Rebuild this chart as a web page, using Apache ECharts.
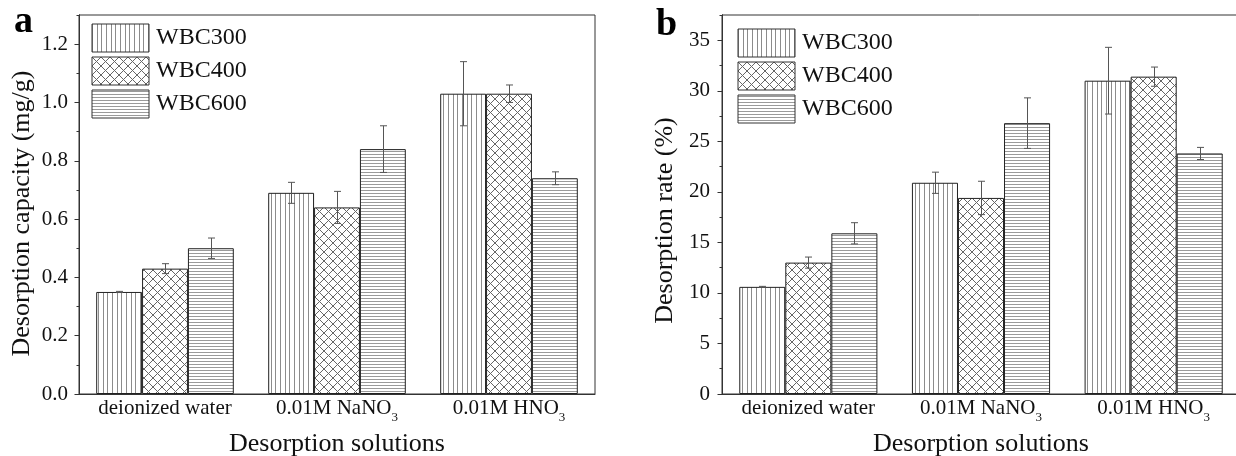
<!DOCTYPE html>
<html>
<head>
<meta charset="utf-8">
<script src="https://cdn.jsdelivr.net/npm/echarts@6/dist/echarts.min.js"></script>
<style>
  html, body { margin: 0; padding: 0; background: #fff; }
  #chart { width: 1236px; height: 456px; }
</style>
</head>
<body>
<div id="chart"></div>
<script>
// Desorption solutions on the x axis
const categories = ['deionized water', '0.01M NaNO3', '0.01M HNO3'];
const sampleNames = ['WBC300', 'WBC400', 'WBC600'];

// (a) Desorption capacity, mg/g, with standard deviations
const capWBC300 = [0.35, 0.69, 1.03];
const capWBC400 = [0.43, 0.64, 1.03];
const capWBC600 = [0.50, 0.84, 0.74];
const capErrWBC300 = [0.002, 0.036, 0.11];
const capErrWBC400 = [0.017, 0.055, 0.03];
const capErrWBC600 = [0.035, 0.08, 0.022];

// (b) Desorption rate, %, with standard deviations
const rateWBC300 = [10.6, 20.9, 31.0];
const rateWBC400 = [13.0, 19.4, 31.4];
const rateWBC600 = [15.9, 26.8, 23.8];
const rateErrWBC300 = [0.05, 1.05, 3.3];
const rateErrWBC400 = [0.55, 1.65, 0.95];
const rateErrWBC600 = [1.05, 2.5, 0.6];

// Axis ranges and tick steps
const capAxis = { max: 1.3, major: 0.2, minor: 0.1 };
const rateAxis = { max: 37.5, major: 5, minor: 2.5 };

const FONT = "'Liberation Serif', 'Times New Roman', serif";
const INK = '#111';
const AXIS = '#333';

// Hatch fills used for the three samples
function hatch(kind) {
  const c = document.createElement('canvas');
  const ctx = c.getContext('2d');
  if (kind === 'vertical') {
    c.width = 14; c.height = 4;
    ctx.fillStyle = '#fff'; ctx.fillRect(0, 0, 14, 4);
    ctx.fillStyle = '#8c8c8c';
    [0, 5, 9].forEach(x => ctx.fillRect(x, 0, 1, 4));
  } else if (kind === 'cross') {
    c.width = 9; c.height = 9;
    ctx.fillStyle = '#fff'; ctx.fillRect(0, 0, 9, 9);
    ctx.strokeStyle = '#666'; ctx.lineWidth = 1;
    for (let o = -9; o <= 9; o += 9) {
      ctx.beginPath();
      ctx.moveTo(o, 0); ctx.lineTo(o + 9, 9);
      ctx.moveTo(o + 9, 0); ctx.lineTo(o, 9);
      ctx.stroke();
    }
  } else {
    c.width = 4; c.height = 3;
    ctx.fillStyle = '#fff'; ctx.fillRect(0, 0, 4, 3);
    ctx.fillStyle = '#9a9a9a'; ctx.fillRect(0, 1, 4, 1);
  }
  return { image: c, repeat: 'repeat' };
}
const fills = [hatch('vertical'), hatch('cross'), hatch('horizontal')];

function barSeries(idx, values, xIdx, yIdx) {
  return {
    type: 'bar', name: sampleNames[idx], data: values,
    xAxisIndex: xIdx, yAxisIndex: yIdx,
    barGap: '0%', barCategoryGap: '20%',
    itemStyle: { color: fills[idx], borderColor: '#222', borderWidth: 1 },
    silent: true
  };
}

function errorSeries(idx, values, errs, xIdx, yIdx) {
  return {
    type: 'custom', name: sampleNames[idx] + ' SD',
    xAxisIndex: xIdx, yAxisIndex: yIdx, z: 10, silent: true,
    data: values.map((v, i) => [i, v - errs[i], v + errs[i], idx]),
    encode: { x: 0, y: [1, 2] },
    renderItem(params, api) {
      const cat = api.value(0);
      const lo = api.coord([cat, api.value(1)]);
      const hi = api.coord([cat, api.value(2)]);
      const barW = api.size([1, 0])[0] * 0.8 / 3;
      const x = Math.round(lo[0] + (api.value(3) - 1) * barW) + 0.5;
      const cap = 3.5;
      const st = { stroke: '#555', lineWidth: 1 };
      return {
        type: 'group', children: [
          { type: 'line', shape: { x1: x, y1: lo[1], x2: x, y2: hi[1] }, style: st },
          { type: 'line', shape: { x1: x - cap, y1: hi[1], x2: x + cap, y2: hi[1] }, style: st },
          { type: 'line', shape: { x1: x - cap, y1: lo[1], x2: x + cap, y2: lo[1] }, style: st }
        ]
      };
    }
  };
}

function catAxis(gridIndex) {
  return {
    type: 'category', gridIndex, data: categories, position: 'bottom',
    axisLine: { lineStyle: { color: AXIS, width: 1 } },
    axisTick: { show: false },
    axisLabel: {
      interval: 0, hideOverlap: false,
      color: INK, fontFamily: FONT, fontSize: 21, lineHeight: 34, margin: -3,
      formatter: v => v.replace(/O3$/, 'O{s|3}'),
      rich: { s: { fontFamily: FONT, fontSize: 13, lineHeight: 13, color: INK, padding: [20, 0, 0, 0] } }
    },
    name: 'Desorption solutions', nameLocation: 'middle', nameGap: 37,
    nameTextStyle: { color: INK, fontFamily: FONT, fontSize: 26 }
  };
}

function minorAxis(gridIndex, ax) {
  return {
    type: 'value', gridIndex, position: 'left', offset: 0, min: 0, max: ax.max, interval: ax.minor,
    axisLine: { show: true, onZero: false, lineStyle: { color: AXIS, width: 1 } },
    axisTick: { show: true, inside: false, length: 2.5, lineStyle: { color: AXIS } },
    axisLabel: { show: false }, splitLine: { show: false }
  };
}

function majorAxis(gridIndex, ax, title, labelMargin, nameGap, namePad, fmt) {
  return {
    type: 'value', gridIndex, position: 'left', offset: 0, min: 0, max: ax.max, interval: ax.major,
    axisLine: { show: true, onZero: false, lineStyle: { color: AXIS, width: 1 } },
    axisTick: { show: true, inside: false, length: 4.5, lineStyle: { color: AXIS } },
    axisLabel: { color: INK, fontFamily: FONT, fontSize: 21, margin: labelMargin, showMaxLabel: false, formatter: fmt },
    splitLine: { show: false },
    name: title, nameLocation: 'middle', nameGap: nameGap,
    nameTextStyle: { color: INK, fontFamily: FONT, fontSize: 26, padding: [0, namePad, 0, 0] }
  };
}

function legendFor(left, top) {
  return {
    data: sampleNames, orient: 'vertical', left, top, padding: 0,
    icon: 'rect', itemWidth: 57, itemHeight: 28, itemGap: 4,
    selectedMode: false,
    itemStyle: { borderColor: '#333', borderWidth: 1 },
    textStyle: { color: INK, fontFamily: FONT, fontSize: 24, padding: [0, 0, 0, 2] }
  };
}

const chart = echarts.init(document.getElementById('chart'), null, { renderer: 'canvas' });
chart.setOption({
  animation: false,
  backgroundColor: '#fff',
  grid: [
    { left: 79, top: 15, width: 516, height: 379, containLabel: false, outerBoundsMode: 'none',
      show: true, borderColor: AXIS, borderWidth: 1, backgroundColor: 'transparent' },
    { left: 722, top: 15, width: 518, height: 379, containLabel: false, outerBoundsMode: 'none',
      show: true, borderColor: AXIS, borderWidth: 1, backgroundColor: 'transparent' }
  ],
  legend: [legendFor(91.5, 23.5), legendFor(737.5, 28.5)],
  xAxis: [catAxis(0), catAxis(1)],
  yAxis: [
    minorAxis(0, capAxis),
    majorAxis(0, capAxis, 'Desorption capacity (mg/g)', 11, 44, 18, v => v.toFixed(1)),
    minorAxis(1, rateAxis),
    majorAxis(1, rateAxis, 'Desorption rate (%)', 12, 44, 32, v => String(v))
  ],
  series: [
    barSeries(0, capWBC300, 0, 1),
    barSeries(1, capWBC400, 0, 1),
    barSeries(2, capWBC600, 0, 1),
    errorSeries(0, capWBC300, capErrWBC300, 0, 1),
    errorSeries(1, capWBC400, capErrWBC400, 0, 1),
    errorSeries(2, capWBC600, capErrWBC600, 0, 1),
    barSeries(0, rateWBC300, 1, 3),
    barSeries(1, rateWBC400, 1, 3),
    barSeries(2, rateWBC600, 1, 3),
    errorSeries(0, rateWBC300, rateErrWBC300, 1, 3),
    errorSeries(1, rateWBC400, rateErrWBC400, 1, 3),
    errorSeries(2, rateWBC600, rateErrWBC600, 1, 3)
  ],
  graphic: [
    { type: 'text', left: 14, top: 3, style: { text: 'a', fontFamily: FONT, fontWeight: 'bold', fontSize: 38, fill: '#000' } },
    { type: 'text', left: 656, top: 6, style: { text: 'b', fontFamily: FONT, fontWeight: 'bold', fontSize: 38, fill: '#000' } }
  ]
});
</script>
</body>
</html>
